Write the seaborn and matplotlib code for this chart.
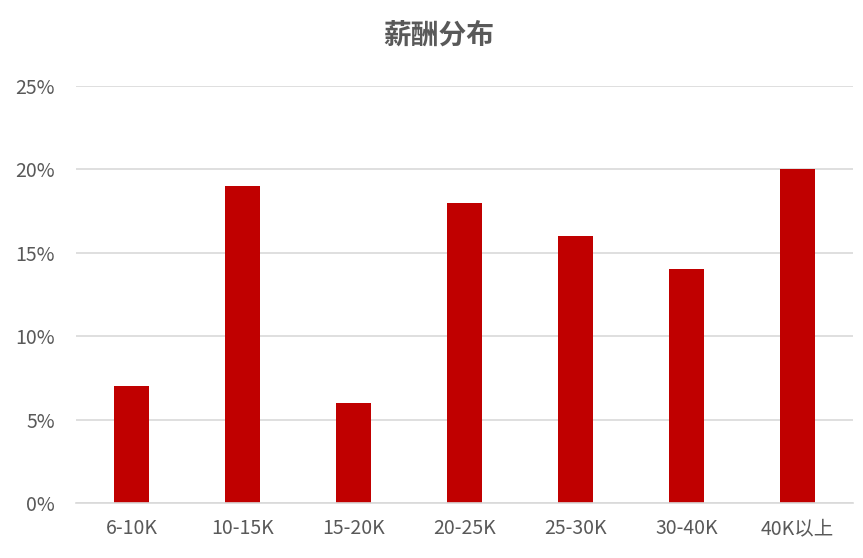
import numpy as np
import pandas as pd
import matplotlib
matplotlib.use('Agg')
from matplotlib import pyplot as plt
from matplotlib.ticker import FuncFormatter
import seaborn as sns

categories = ['6-10K', '10-15K', '15-20K', '20-25K', '25-30K', '30-40K', '40K以上']
shares = [0.07, 0.19, 0.06, 0.18, 0.16, 0.14, 0.20]
yticks = [0, 0.05, 0.10, 0.15, 0.20, 0.25]

df = pd.DataFrame({'range': categories, 'share': shares})

sns.set_theme(style='white')
plt.rcParams['font.family'] = ['Noto Sans CJK SC', 'DejaVu Sans']

fig = plt.figure(figsize=(8.63, 5.58), dpi=100)
ax = fig.add_axes([0.088, 0.0986, 0.9003, 0.7473])

sns.barplot(data=df, x='range', y='share', color='#C00000', width=0.32,
            saturation=1, linewidth=0, ax=ax)

ax.set_ylim(0, 0.25)
ax.set_xlim(-0.5, len(categories) - 0.5)
ax.set_yticks(yticks)
ax.yaxis.set_major_formatter(FuncFormatter(lambda v, p: f'{v*100:.0f}%'))
ax.grid(axis='y', color='#D9D9D9', linewidth=1.2)
ax.set_axisbelow(True)
for s in ['top', 'right', 'left']:
    ax.spines[s].set_visible(False)
ax.spines['bottom'].set_color('#D9D9D9')
ax.spines['bottom'].set_linewidth(1.2)
ax.tick_params(axis='both', length=0, labelsize=14, colors='#595959')
ax.tick_params(axis='y', pad=15)
ax.tick_params(axis='x', pad=11)
ax.set_xlabel('')
ax.set_ylabel('')

fig.suptitle('薪酬分布', x=0.508, y=0.962, fontsize=20, fontweight='bold', color='#595959')

plt.savefig('out.png', dpi=100)
